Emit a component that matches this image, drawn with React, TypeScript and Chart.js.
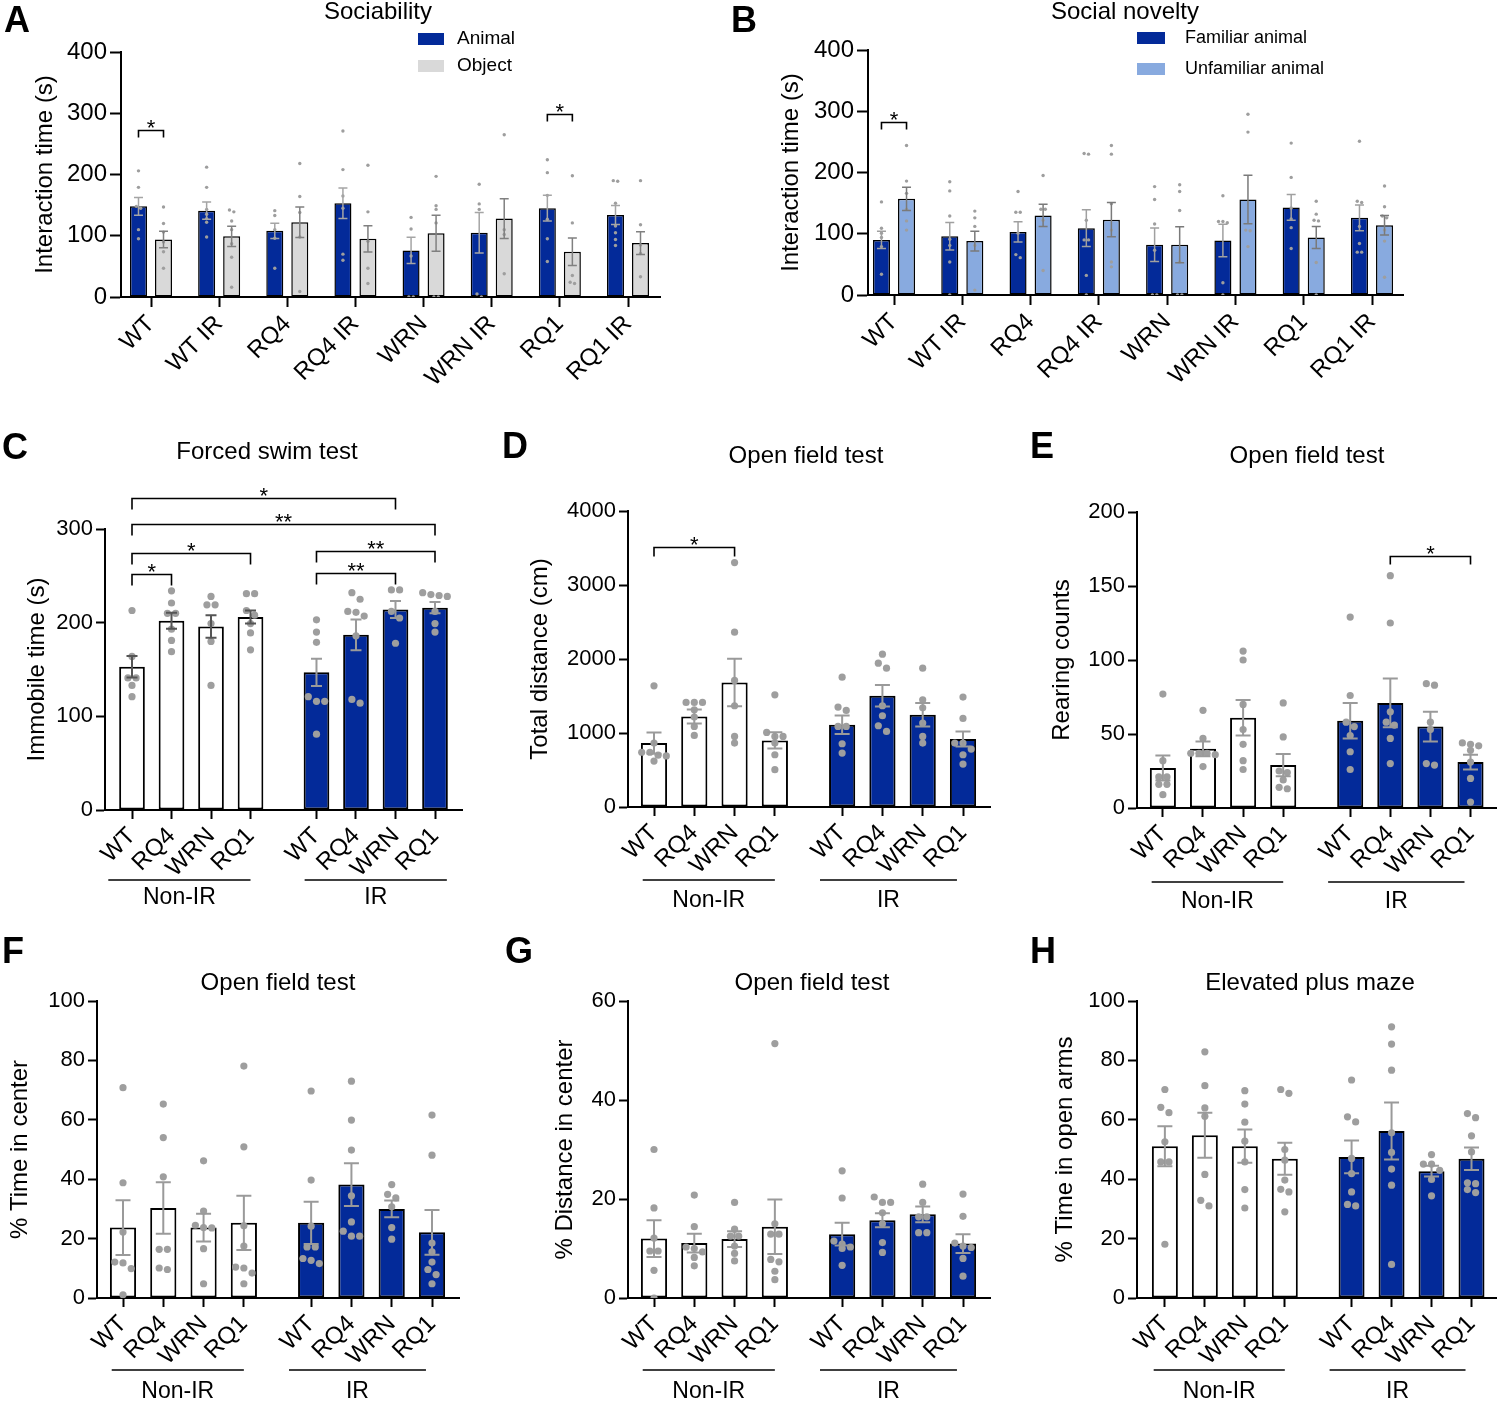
import React, { useEffect, useRef } from 'react';
import { Chart, registerables } from 'chart.js';

Chart.register(...registerables);

const FONT = '"Liberation Sans", Arial, Helvetica, sans-serif';
Chart.defaults.font.family = FONT;
Chart.defaults.color = '#000';

const BLUE = '#032a99';
const LIGHT_BLUE = '#88aadf';
const OBJECT_GRAY = '#d9d9d9';
const WHITE = '#ffffff';
const DOT_GRAY = '#9e9e9e';

// ---------------- labels ----------------
const pairedCategories = ['WT', 'WT IR', 'RQ4', 'RQ4 IR', 'WRN', 'WRN IR', 'RQ1', 'RQ1 IR'];
const genotypes = ['WT', 'RQ4', 'WRN', 'RQ1', 'WT', 'RQ4', 'WRN', 'RQ1'];
const treatmentGroups = ['Non-IR', 'IR'];

// ---------------- A: Sociability ----------------
const sociabilityAnimalMean = [148, 141, 108, 153, 76, 105, 145, 134];
const sociabilityAnimalSem = [14.5, 14, 12.5, 25, 21.5, 33, 21, 15.5];
const sociabilityAnimalDots = [
  [206, 179, 148, 145, 110, 95],
  [212, 179, 143, 135, 128, 122, 98],
  [141, 133, 110, 96, 47],
  [271, 208, 165, 145, 70, 60],
  [130, 111, 67, 0, 0],
  [184, 152, 143, 5, 0],
  [224, 203, 166, 127, 95, 58],
  [189, 190, 153, 116, 105, 94, 84],
];
const sociabilityObjectMean = [94, 99, 122, 95, 104, 128, 74, 88];
const sociabilityObjectSem = [13.5, 16.5, 25, 21.5, 29.5, 32.5, 22.5, 18.5];
const sociabilityObjectDots = [
  [147, 120, 106, 90, 74, 47],
  [142, 139, 124, 110, 87, 65, 16],
  [218, 164, 138, 98, 9],
  [215, 139, 91, 47, 22],
  [197, 149, 143, 121, 0, 0],
  [265, 110, 102, 38],
  [198, 121, 35, 24, 22],
  [190, 118, 85, 71, 33],
];
const sociabilitySig = [
  { group: 0, y: 272, text: '*' },
  { group: 6, y: 299, text: '*' },
];

// ---------------- B: Social novelty ----------------
const noveltyFamiliarMean = [90, 96, 103, 109, 82, 89, 143, 126];
const noveltyFamiliarSem = [14, 22.5, 16.5, 30, 27.5, 26.5, 21, 21];
const noveltyFamiliarDots = [
  [152, 109, 101, 94, 79, 34],
  [185, 170, 129, 91, 81, 54, 0],
  [169, 135, 135, 101, 66, 61],
  [231, 230, 122, 90, 90, 32, 0],
  [177, 156, 116, 73, 0, 0],
  [162, 120, 120, 118, 20, 0],
  [248, 192, 142, 124, 110, 76],
  [251, 153, 151, 112, 84, 70, 70],
];
const noveltyUnfamiliarMean = [157, 88, 130, 123, 82, 156, 94, 114];
const noveltyUnfamiliarSem = [19, 16, 18, 28, 29.5, 39.5, 18, 16];
const noveltyUnfamiliarDots = [
  [244, 186, 166, 140, 121, 106],
  [137, 126, 112, 81, 8],
  [195, 140, 140, 122, 40],
  [244, 230, 149, 106, 54, 46],
  [180, 169, 138, 54, 0, 0],
  [295, 266, 106, 105, 79],
  [153, 132, 122, 121, 53, 0],
  [178, 144, 129, 126, 106, 88, 29],
];
const noveltySig = [{ group: 0, y: 283, text: '*' }];

// ---------------- C: Forced swim test ----------------
const swimMean = [153, 202, 196, 206, 147, 187, 214, 216];
const swimSem = [11.5, 8.5, 12, 7, 14.5, 16.5, 9, 6];
const swimDots = [
  [213, 164, 141, 141, 133, 121],
  [234, 221, 210, 210, 193, 181, 169],
  [228, 219, 219, 199, 180, 133],
  [231, 231, 213, 208, 199, 189, 171],
  [203, 190, 179, 121, 116, 116, 81],
  [232, 225, 212, 211, 207, 186, 118, 114],
  [235, 235, 212, 205, 178],
  [232, 230, 229, 228, 212, 199, 190],
];
const swimSig = [
  { from: 0, to: 6, y: 333, text: '*' },
  { from: 0, to: 7, y: 305, text: '**' },
  { from: 0, to: 3, y: 274, text: '*' },
  { from: 0, to: 1, y: 252, text: '*' },
  { from: 4, to: 7, y: 276, text: '**' },
  { from: 4, to: 6, y: 253, text: '**' },
];

// ---------------- D: Open field, total distance ----------------
const distanceMean = [864, 1224, 1683, 900, 1111, 1503, 1246, 918];
const distanceSem = [144, 95, 322, 110, 124, 144, 158, 101];
const distanceDots = [
  [1638, 864, 740, 740, 700, 690, 620],
  [1413, 1413, 1413, 1314, 1215, 1089, 967],
  [3303, 2362, 1710, 1368, 954, 864],
  [1516, 1008, 954, 954, 864, 706, 504],
  [1755, 1350, 1305, 1089, 1089, 855, 729],
  [2065, 1944, 1876, 1368, 1233, 1098, 1021],
  [1876, 1449, 1340, 1134, 954, 864],
  [1485, 1197, 864, 864, 783, 706, 580],
];
const distanceSig = [{ from: 0, to: 2, y: 3519, text: '*' }];

// ---------------- E: Open field, rearing ----------------
const rearingMean = [27, 40, 61, 29, 59, 71, 55, 31];
const rearingSem = [8.5, 5, 12, 7.5, 12, 16.5, 10, 5];
const rearingDots = [
  [77, 32, 21, 21, 16, 16, 9],
  [66, 47, 37, 37, 37, 36, 28],
  [106, 100, 70, 53, 43, 32, 26],
  [71, 48, 25, 24, 19, 14, 13],
  [129, 76, 58, 55, 49, 38, 26],
  [157, 125, 65, 58, 56, 47, 30],
  [84, 83, 58, 53, 30, 29],
  [44, 43, 42, 39, 31, 20, 4],
];
const rearingSig = [{ from: 5, to: 7, y: 170, text: '*' }];

// ---------------- F: Open field, % time in center ----------------
const centerTimeMean = [23.7, 30.3, 23.7, 25.3, 25.3, 38.2, 30, 22.1];
const centerTimeSem = [9.2, 8.7, 4.7, 9.1, 7.1, 7.2, 2.8, 7.5];
const centerTimeDots = [
  [70.8, 38.8, 22.2, 12.1, 11.8, 9.9, 1.1],
  [65.3, 54, 40.8, 16.4, 16.4, 10.1, 9.6],
  [46.2, 29.3, 24.5, 23.7, 23.6, 16.6, 4.8],
  [78.1, 50.9, 24.3, 17.5, 10.4, 10.1, 8.4, 4.8],
  [69.7, 39.7, 24.2, 17.2, 17.2, 13.3, 12.7, 11.6],
  [73, 59.9, 49.8, 34.4, 25.6, 22.5, 20.8, 20.8],
  [38.2, 34.9, 33.7, 30.7, 23.7, 19.8],
  [61.6, 48.1, 18.5, 15.5, 12.1, 9.6, 7.9, 4.8],
];

// ---------------- G: Open field, % distance in center ----------------
const centerDistMean = [12, 11.1, 11.9, 14.4, 12.9, 15.7, 16.9, 11];
const centerDistSem = [3.7, 1.9, 1.6, 5.5, 2.3, 1.4, 1.6, 1.9];
const centerDistDots = [
  [30, 18.2, 12.1, 9.5, 9.5, 5.6, 0],
  [20.8, 14.4, 10.3, 10, 9.3, 8.2, 6.5],
  [19.3, 13.9, 12.5, 12.5, 10.5, 9, 7.5],
  [51.4, 15, 12.9, 12.9, 7.8, 7.3, 5.4, 3.7],
  [25.7, 20.2, 11.5, 10.9, 10.3, 10, 6.6],
  [20.4, 19.3, 19.3, 17.2, 15, 11.2, 9.2],
  [23, 19.3, 16.4, 16.4, 13.2, 13.2],
  [21, 16.5, 11.1, 10.5, 10.2, 8, 4.4],
];

// ---------------- H: Elevated plus maze ----------------
const openArmsMean = [51.1, 54.8, 51.1, 46.9, 47.5, 56.2, 42.7, 46.9];
const openArmsSem = [6.7, 7.6, 5.6, 5.4, 5.5, 9.6, 1.8, 3.8];
const openArmsDots = [
  [70.2, 64.2, 62.4, 52.6, 45.8, 45.8, 18.1],
  [82.9, 71.5, 64, 61.2, 41.6, 32.9, 31],
  [69.8, 65.3, 59.2, 52.8, 45.8, 36.5, 30.3],
  [70.2, 68.9, 50, 46.4, 39.7, 36.6, 35.7, 29],
  [73.4, 61, 59.3, 47, 41.9, 35.7, 31.5, 31],
  [91.3, 85.5, 76.7, 55.6, 49, 43.4, 38, 11.3],
  [48.3, 45.1, 45.1, 43, 39.9, 34.4],
  [62.1, 60.7, 54.6, 49.2, 38.8, 38.5, 36.5, 35.5],
];

// ---------------- layout / style ----------------
const pairedPositions = [0, 1, 2, 3, 4, 5, 6, 7];
const splitPositions = [0, 1, 2, 3, 4.67, 5.67, 6.67, 7.67];
const treatmentFill = [WHITE, WHITE, WHITE, WHITE, BLUE, BLUE, BLUE, BLUE];
const errGray = '#9a9a9a';
const errDark = '#555555';
const defaultGroupSpans: [number, number][] = [
  [-0.28, 0],
  [-0.55, -0.15],
];

type Series = { label?: string; mean: number[]; sem: number[]; dots: number[][]; fill: any; err: any };
type Bracket = { a: [number, number]; b: [number, number]; y: number; text: string };
type PanelCfg = {
  letter: string; letterPos: [number, number];
  title: string; titlePos: [number, number];
  canvas: { x: number; y: number; w: number; h: number };
  area: { l: number; t: number; r: number; b: number; firstTick: number; lastTick: number };
  positions: number[]; xLabels: string[];
  yMax: number; yStep: number; yTitle: string; yTitleX: number;
  yTickSize: number; xTickSize: number; yTickLen: number; xTickLen: number;
  paired: boolean; series: Series[]; brackets: Bracket[];
  legLen: number; dotR: number; capW: number; errW: number; barBorder: number;
  legend?: { boxX: number; boxW: number; boxH: number; textX: number; rows: number[]; size: number };
  groups?: { lineY: number; labelY: number; spans?: [number, number][] };
};

function pairBrackets(list: { group: number; y: number; text: string }[]): Bracket[] {
  return list.map((s) => ({ a: [0, s.group], b: [1, s.group], y: s.y, text: s.text }));
}
function singleBrackets(list: { from: number; to: number; y: number; text: string }[]): Bracket[] {
  return list.map((s) => ({ a: [0, s.from], b: [0, s.to], y: s.y, text: s.text }));
}

const splitBase = {
  positions: splitPositions, xLabels: genotypes, yTickSize: 22, xTickSize: 24, yTickLen: 9, xTickLen: 9,
  paired: false, legLen: 10, dotR: 3.6, capW: 15, errW: 2, barBorder: 2,
};

const panels: PanelCfg[] = [
  {
    letter: 'A', letterPos: [4, 32], title: 'Sociability', titlePos: [378, 19],
    canvas: { x: 0, y: 0, w: 725, h: 410 },
    area: { l: 121, t: 52, r: 660, b: 297, firstTick: 151, lastTick: 628 },
    positions: pairedPositions, xLabels: pairedCategories,
    yMax: 400, yStep: 100, yTitle: 'Interaction time (s)', yTitleX: 45,
    yTickSize: 24, xTickSize: 24, yTickLen: 11, xTickLen: 10, paired: true,
    series: [
      { label: 'Animal', mean: sociabilityAnimalMean, sem: sociabilityAnimalSem, dots: sociabilityAnimalDots, fill: BLUE, err: '#a5a5a5' },
      { label: 'Object', mean: sociabilityObjectMean, sem: sociabilityObjectSem, dots: sociabilityObjectDots, fill: OBJECT_GRAY, err: '#808080' },
    ],
    brackets: pairBrackets(sociabilitySig),
    legLen: 7, dotR: 1.7, capW: 9, errW: 1.5, barBorder: 1.5,
    legend: { boxX: 418, boxW: 26, boxH: 12, textX: 457, rows: [39, 66], size: 19 },
  },
  {
    letter: 'B', letterPos: [731, 32], title: 'Social novelty', titlePos: [1125, 19],
    canvas: { x: 725, y: 0, w: 775, h: 410 },
    area: { l: 868, t: 50, r: 1403, b: 295, firstTick: 894, lastTick: 1372 },
    positions: pairedPositions, xLabels: pairedCategories,
    yMax: 400, yStep: 100, yTitle: 'Interaction time (s)', yTitleX: 791,
    yTickSize: 24, xTickSize: 24, yTickLen: 11, xTickLen: 10, paired: true,
    series: [
      { label: 'Familiar animal', mean: noveltyFamiliarMean, sem: noveltyFamiliarSem, dots: noveltyFamiliarDots, fill: BLUE, err: '#a0a0a0' },
      { label: 'Unfamiliar animal', mean: noveltyUnfamiliarMean, sem: noveltyUnfamiliarSem, dots: noveltyUnfamiliarDots, fill: LIGHT_BLUE, err: '#7a7a7a' },
    ],
    brackets: pairBrackets(noveltySig),
    legLen: 7, dotR: 1.7, capW: 9, errW: 1.5, barBorder: 1.5,
    legend: { boxX: 1137, boxW: 28, boxH: 12, textX: 1185, rows: [38, 69], size: 18 },
  },
  {
    ...splitBase,
    letter: 'C', letterPos: [2, 459], title: 'Forced swim test', titlePos: [267, 459],
    canvas: { x: 0, y: 420, w: 490, h: 510 },
    area: { l: 105, t: 529, r: 462, b: 810, firstTick: 132, lastTick: 435 },
    yMax: 300, yStep: 100, yTitle: 'Immobile time (s)', yTitleX: 37,
    series: [{ mean: swimMean, sem: swimSem, dots: swimDots, fill: treatmentFill, err: [errDark, errDark, errDark, errDark, errGray, errGray, errGray, errGray] }],
    brackets: singleBrackets(swimSig), legLen: 11, capW: 11,
    groups: { lineY: 880, labelY: 898, spans: [[-0.6, 0], [-0.3, 0.3]] },
  },
  {
    ...splitBase,
    letter: 'D', letterPos: [502, 458], title: 'Open field test', titlePos: [806, 463],
    canvas: { x: 490, y: 420, w: 510, h: 510 },
    area: { l: 628, t: 511, r: 990, b: 807, firstTick: 654, lastTick: 963 },
    yMax: 4000, yStep: 1000, yTitle: 'Total distance (cm)', yTitleX: 540,
    series: [{ mean: distanceMean, sem: distanceSem, dots: distanceDots, fill: treatmentFill, err: errGray }],
    brackets: singleBrackets(distanceSig), legLen: 9,
    groups: { lineY: 880, labelY: 901 },
  },
  {
    ...splitBase,
    letter: 'E', letterPos: [1030, 458], title: 'Open field test', titlePos: [1307, 463],
    canvas: { x: 1000, y: 420, w: 500, h: 510 },
    area: { l: 1137, t: 512, r: 1498, b: 808, firstTick: 1163, lastTick: 1472 },
    yMax: 200, yStep: 50, yTitle: 'Rearing counts', yTitleX: 1062,
    series: [{ mean: rearingMean, sem: rearingSem, dots: rearingDots, fill: treatmentFill, err: errGray }],
    brackets: singleBrackets(rearingSig), legLen: 8,
    groups: { lineY: 882, labelY: 902 },
  },
  {
    ...splitBase,
    letter: 'F', letterPos: [2, 963], title: 'Open field test', titlePos: [278, 990],
    canvas: { x: 0, y: 930, w: 490, h: 473 },
    area: { l: 97, t: 1001, r: 459, b: 1298, firstTick: 123, lastTick: 432 },
    yMax: 100, yStep: 20, yTitle: '% Time in center', yTitleX: 20,
    series: [{ mean: centerTimeMean, sem: centerTimeSem, dots: centerTimeDots, fill: treatmentFill, err: errGray }],
    brackets: [],
    groups: { lineY: 1370, labelY: 1392 },
  },
  {
    ...splitBase,
    letter: 'G', letterPos: [505, 963], title: 'Open field test', titlePos: [812, 990],
    canvas: { x: 490, y: 930, w: 510, h: 473 },
    area: { l: 628, t: 1001, r: 990, b: 1298, firstTick: 654, lastTick: 963 },
    yMax: 60, yStep: 20, yTitle: '% Distance in center', yTitleX: 565,
    series: [{ mean: centerDistMean, sem: centerDistSem, dots: centerDistDots, fill: treatmentFill, err: errGray }],
    brackets: [],
    groups: { lineY: 1370, labelY: 1392 },
  },
  {
    ...splitBase,
    letter: 'H', letterPos: [1030, 963], title: 'Elevated plus maze', titlePos: [1310, 990],
    canvas: { x: 1000, y: 930, w: 500, h: 473 },
    area: { l: 1137, t: 1001, r: 1498, b: 1298, firstTick: 1165, lastTick: 1473 },
    yMax: 100, yStep: 20, yTitle: '% Time in open arms', yTitleX: 1065,
    series: [{ mean: openArmsMean, sem: openArmsSem, dots: openArmsDots, fill: treatmentFill, err: errGray }],
    brackets: [],
    groups: { lineY: 1370, labelY: 1392 },
  },
];

// symmetric "scatter dot plot" placement of points with similar values
function swarmOffsets(vals: number[], pxPerY: number, d: number): number[] {
  const idx = vals.map((_, i) => i).sort((a, b) => vals[b] - vals[a]);
  const offs = new Array(vals.length).fill(0);
  let k = 0;
  while (k < idx.length) {
    const row = [idx[k]];
    let j = k + 1;
    while (j < idx.length && (vals[idx[k]] - vals[idx[j]]) * pxPerY < d * 0.8) {
      row.push(idx[j]);
      j++;
    }
    row.forEach((id, n) => {
      offs[id] = (n - (row.length - 1) / 2) * d;
    });
    k = j;
  }
  return offs;
}

function decorPlugin(p: PanelCfg) {
  return {
    id: 'decor' + p.letter,
    afterDatasetsDraw(chart: any) {
      const ctx = chart.ctx as CanvasRenderingContext2D;
      const xs = chart.scales.x;
      const ys = chart.scales.y;
      const ox = p.canvas.x;
      const oy = p.canvas.y;
      ctx.save();
      // error bars (mean ± SEM)
      p.series.forEach((s, si) => {
        const meta = chart.getDatasetMeta(si);
        meta.data.forEach((el: any, i: number) => {
          const m = s.mean[i];
          const e = s.sem[i];
          const yTop = ys.getPixelForValue(m + e);
          const yBot = ys.getPixelForValue(Math.max(0, m - e));
          ctx.strokeStyle = Array.isArray(s.err) ? s.err[i] : s.err;
          ctx.lineWidth = p.errW;
          ctx.beginPath();
          ctx.moveTo(el.x, yTop);
          ctx.lineTo(el.x, yBot);
          ctx.moveTo(el.x - p.capW / 2, yTop);
          ctx.lineTo(el.x + p.capW / 2, yTop);
          ctx.moveTo(el.x - p.capW / 2, yBot);
          ctx.lineTo(el.x + p.capW / 2, yBot);
          ctx.stroke();
        });
      });
      // significance brackets
      ctx.strokeStyle = '#000';
      ctx.fillStyle = '#000';
      ctx.lineWidth = 1.6;
      ctx.font = `22px ${FONT}`;
      ctx.textAlign = 'center';
      ctx.textBaseline = 'alphabetic';
      p.brackets.forEach((b) => {
        const x1 = chart.getDatasetMeta(b.a[0]).data[b.a[1]].x;
        const x2 = chart.getDatasetMeta(b.b[0]).data[b.b[1]].x;
        const y = Math.round(ys.getPixelForValue(b.y)) + 0.5;
        ctx.beginPath();
        ctx.moveTo(x1, y + p.legLen);
        ctx.lineTo(x1, y);
        ctx.lineTo(x2, y);
        ctx.lineTo(x2, y + p.legLen);
        ctx.stroke();
        ctx.fillText(b.text, (x1 + x2) / 2, y + 4);
      });
      // treatment group underlines
      if (p.groups) {
        const u = xs.getPixelForValue(1) - xs.getPixelForValue(0);
        const spans = p.groups.spans || defaultGroupSpans;
        const ranges: [number, number][] = [
          [0, 3],
          [4, 7],
        ];
        ctx.font = `23px ${FONT}`;
        ctx.textBaseline = 'middle';
        ranges.forEach(([a, b], gi) => {
          const x1 = xs.getPixelForValue(p.positions[a]) + spans[gi][0] * u;
          const x2 = xs.getPixelForValue(p.positions[b]) + spans[gi][1] * u;
          const y = p.groups!.lineY - oy;
          ctx.lineWidth = 1.6;
          ctx.beginPath();
          ctx.moveTo(x1, y);
          ctx.lineTo(x2, y);
          ctx.stroke();
          ctx.fillText(treatmentGroups[gi], (x1 + x2) / 2, p.groups!.labelY - oy);
        });
      }
      // legend
      if (p.legend) {
        const L = p.legend;
        ctx.font = `${L.size}px ${FONT}`;
        ctx.textAlign = 'left';
        ctx.textBaseline = 'middle';
        p.series.forEach((s, si) => {
          const cy = L.rows[si] - oy;
          ctx.fillStyle = s.fill;
          ctx.fillRect(L.boxX - ox, cy - L.boxH / 2, L.boxW, L.boxH);
          ctx.fillStyle = '#000';
          ctx.fillText(s.label || '', L.textX - ox, cy);
        });
      }
      // title
      ctx.fillStyle = '#000';
      ctx.font = `24px ${FONT}`;
      ctx.textAlign = 'center';
      ctx.textBaseline = 'alphabetic';
      ctx.fillText(p.title, p.titlePos[0] - ox, p.titlePos[1] - oy);
      // panel letter
      ctx.font = `bold 36px ${FONT}`;
      ctx.textAlign = 'left';
      ctx.fillText(p.letter, p.letterPos[0] - ox, p.letterPos[1] - oy);
      ctx.restore();
    },
  };
}

function buildConfig(p: PanelCfg): any {
  const pos = p.positions;
  const n = pos.length;
  const unitPx = (p.area.lastTick - p.area.firstTick) / (pos[n - 1] - pos[0]);
  const xMin = pos[0] - (p.area.firstTick - p.area.l) / unitPx;
  const xMax = pos[n - 1] + (p.area.r - p.area.lastTick) / unitPx;
  const pxPerY = (p.area.b - p.area.t) / p.yMax;
  const cx = p.canvas.x;
  const cy = p.canvas.y;
  const yTitleSize = 24;
  const padLeft = p.yTitleX - cx - (yTitleSize * 1.2) / 2;
  const yAxisW = p.area.l - cx - padLeft;
  const xAxisH = 90;
  const padTop = p.area.t - cy;
  const padRight = cx + p.canvas.w - p.area.r;
  const padBottom = cy + p.canvas.h - p.area.b - xAxisH;
  const nSeries = p.series.length;
  const catPct = p.paired ? 0.734 : 1;
  const barPct = p.paired ? 0.68 : 0.65;

  const datasets: any[] = p.series.map((s) => ({
    type: 'bar',
    label: s.label,
    data: s.mean.map((m, i) => ({ x: pos[i], y: m })),
    backgroundColor: s.fill,
    borderColor: '#000',
    borderWidth: p.barBorder,
    borderSkipped: false,
    categoryPercentage: catPct,
    barPercentage: barPct,
    order: 1,
  }));
  const dotData: { x: number; y: number }[] = [];
  p.series.forEach((s, si) => {
    const shift = nSeries > 1 ? ((si - (nSeries - 1) / 2) * catPct) / nSeries : 0;
    s.dots.forEach((vals, i) => {
      const offs = swarmOffsets(vals, pxPerY, p.dotR * 2 + 1);
      vals.forEach((v, k) => dotData.push({ x: pos[i] + shift + offs[k] / unitPx, y: v }));
    });
  });
  datasets.push({
    type: 'scatter',
    data: dotData,
    pointRadius: p.dotR,
    pointHoverRadius: p.dotR,
    pointBackgroundColor: DOT_GRAY,
    pointBorderWidth: 0,
    showLine: false,
    order: 0,
  });

  return {
    type: 'bar',
    data: { datasets },
    options: {
      responsive: false,
      animation: false,
      devicePixelRatio: 1,
      events: [],
      layout: { padding: { left: padLeft, right: padRight, top: padTop, bottom: padBottom } },
      plugins: { legend: { display: false }, tooltip: { enabled: false }, title: { display: false } },
      scales: {
        x: {
          type: 'linear',
          min: xMin,
          max: xMax,
          offset: false,
          afterBuildTicks: (sc: any) => {
            sc.ticks = pos.map((v) => ({ value: v }));
          },
          afterFit: (sc: any) => {
            sc.height = xAxisH;
          },
          ticks: {
            autoSkip: false,
            minRotation: 45,
            maxRotation: 45,
            padding: 3,
            color: '#000',
            font: { size: p.xTickSize },
            callback: (_v: any, i: number) => p.xLabels[i],
          },
          grid: { drawOnChartArea: false, drawTicks: true, tickLength: p.xTickLen, tickWidth: 2, tickColor: '#000', offset: false },
          border: { display: true, color: '#000', width: 2 },
        },
        y: {
          type: 'linear',
          min: 0,
          max: p.yMax,
          afterFit: (sc: any) => {
            sc.width = yAxisW;
          },
          ticks: {
            stepSize: p.yStep,
            padding: 3,
            color: '#000',
            font: { size: p.yTickSize },
            callback: (v: any) => String(v),
          },
          grid: { drawOnChartArea: false, drawTicks: true, tickLength: p.yTickLen, tickWidth: 2, tickColor: '#000' },
          border: { display: true, color: '#000', width: 2 },
          title: { display: true, text: p.yTitle, color: '#000', padding: 0, font: { size: yTitleSize } },
        },
      },
    },
    plugins: [decorPlugin(p)],
  };
}

function Panel({ cfg }: { cfg: PanelCfg }) {
  const ref = useRef<HTMLCanvasElement>(null);
  useEffect(() => {
    if (!ref.current) return;
    const chart = new Chart(ref.current, buildConfig(cfg));
    return () => chart.destroy();
  }, [cfg]);
  return (
    <canvas
      ref={ref}
      width={cfg.canvas.w}
      height={cfg.canvas.h}
      style={{
        position: 'absolute',
        left: cfg.canvas.x,
        top: cfg.canvas.y,
        width: cfg.canvas.w,
        height: cfg.canvas.h,
        display: 'block',
      }}
    />
  );
}

export default function App() {
  return (
    <div
      style={{
        position: 'absolute',
        left: 0,
        top: 0,
        width: 1500,
        height: 1403,
        background: '#ffffff',
        overflow: 'hidden',
      }}
    >
      {panels.map((p) => (
        <Panel key={p.letter} cfg={p} />
      ))}
    </div>
  );
}
